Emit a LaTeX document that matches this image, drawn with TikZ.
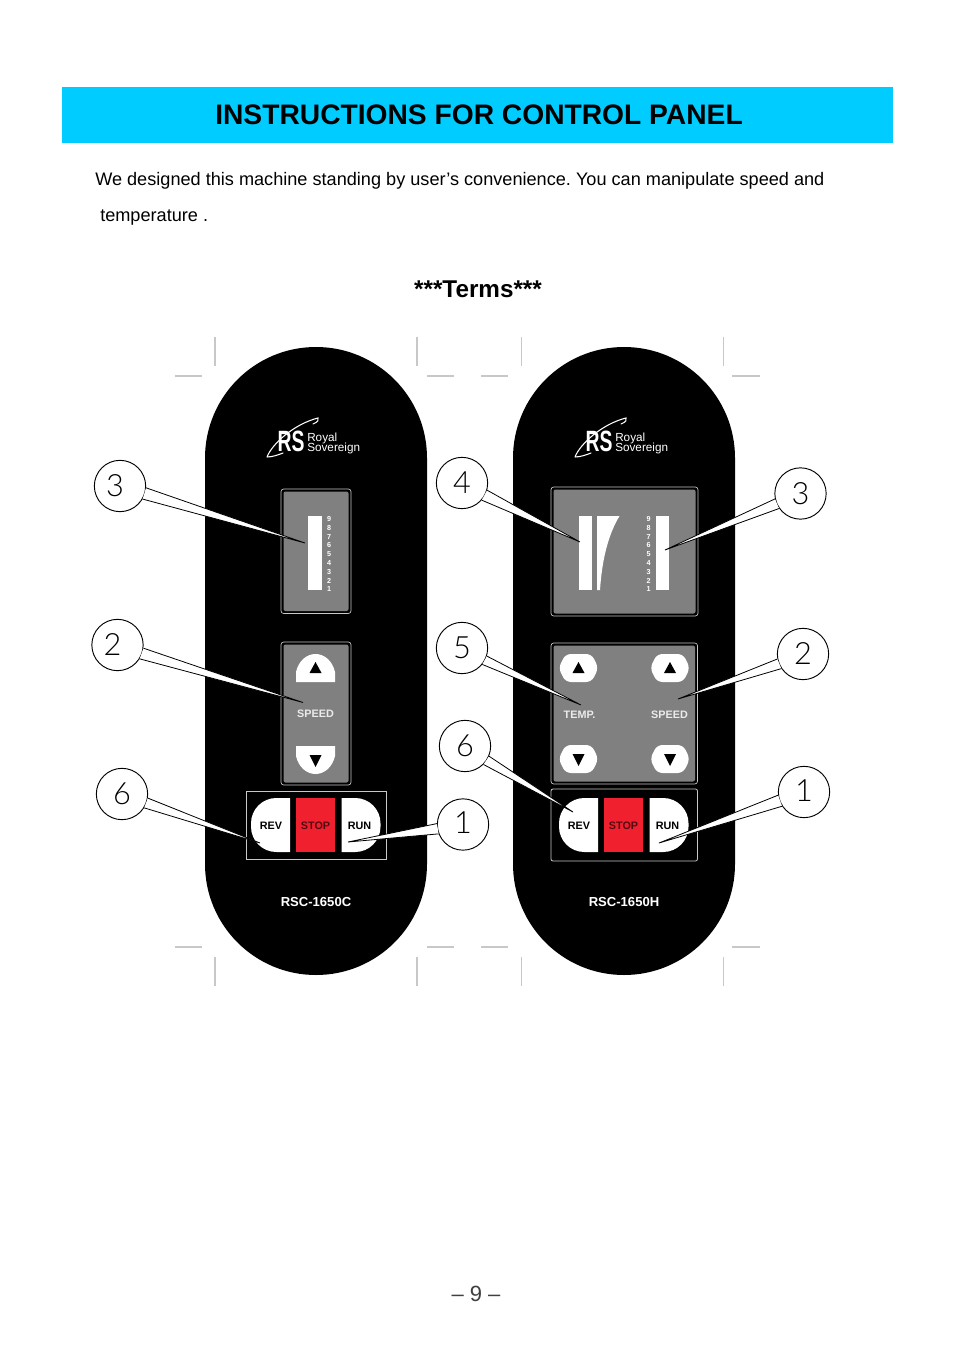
\documentclass[tikz,border=0pt]{standalone}
\usepackage{fontspec}
\setmainfont{Liberation Sans}
\newfontfamily\thinfont{Lato Light}
\usetikzlibrary{positioning}
\definecolor{titlecyan}{HTML}{00CCFF}
\definecolor{panelgray}{HTML}{808080}
\definecolor{stopred}{HTML}{F0202F}
\definecolor{cropgray}{HTML}{C8C8C8}
\tikzset{
    crop/.style={draw=cropgray,line width=0.8pt},
    callnum/.style={circle,draw=black,fill=white,line width=0.7pt,minimum size=38.5pt,inner sep=0pt,font=\fontsize{23}{23}\thinfont},
    callout/.style={draw=black,fill=white,line width=0.6pt,line join=miter},
    window/.style={draw=cropgray,fill=black,line width=0.5pt,rounded corners=2pt},
    screen/.style={fill=panelgray,rounded corners=1.5pt},
    boxed/.style={draw=cropgray,fill=black,line width=0.6pt},
    keylabel/.style={inner sep=0pt,font=\fontsize{8.1}{8.1}\selectfont\bfseries},
    whitelabel/.style={keylabel,text=white!92!black},
    model/.style={inner sep=0pt,text=white,font=\fontsize{9.8}{9.8}\selectfont\bfseries},
    pics/scalecol/.style={code={
        \foreach \n [count=\i from 0] in {9,...,1}
            \node[inner sep=0pt,text=white,font=\fontsize{5.4}{5.4}\selectfont\bfseries] (#1\n) at (0,519+\i*8.8) {\n};
    }},
    pics/logo/.style={code={
        \draw[white,line width=0.8pt,line cap=round] (-49,17) .. controls (-44,4) and (-22,-16) .. (2,-22)
            .. controls (3,-20) and (2,-18) .. (-3,-16) (-49,17) .. controls (-44,17) and (-38,15) .. (-33,13);
        \node[inner sep=0pt,text=white,font=\fontsize{22}{22}\selectfont\bfseries] (#1rs) at (-25,1.5) {\scalebox{0.66}[1]{RS}};
        \node[inner sep=0pt,anchor=base west,text=white,font=\fontsize{8.8}{8.8}\selectfont] (#1royal) at (-9,1) {Royal};
        \node[inner sep=0pt,anchor=base west,text=white,font=\fontsize{8.8}{8.8}\selectfont] (#1sov) at (-9,11) {Sovereign};
    }},
    pics/domeup/.style={code={
        \fill[white] (-19.5,14) -- (-19.5,4) .. controls (-17,-7) and (-9,-14) .. (0,-14)
            .. controls (9,-14) and (17,-7) .. (19.5,4) -- (19.5,14) -- cycle;
        \fill[black] (0,-6) -- (6,5) -- (-6,5) -- cycle;
    }},
    pics/domedown/.style={code={
        \fill[white] (-19.5,-14) -- (-19.5,-4) .. controls (-17,7) and (-9,14) .. (0,14)
            .. controls (9,14) and (17,7) .. (19.5,-4) -- (19.5,-14) -- cycle;
        \fill[black] (0,7) -- (6,-5) -- (-6,-5) -- cycle;
    }},
    pics/hexup/.style={code={
        \fill[white,rounded corners=4pt] (-13,-14) -- (13,-14) -- (20,0) -- (13,14) -- (-13,14) -- (-20,0) -- cycle;
        \fill[black] (0,-6) -- (6,5) -- (-6,5) -- cycle;
    }},
    pics/hexdown/.style={code={
        \fill[white,rounded corners=4pt] (-13,-14) -- (13,-14) -- (20,0) -- (13,14) -- (-13,14) -- (-20,0) -- cycle;
        \fill[black] (0,7) -- (6,-5) -- (-6,-5) -- cycle;
    }},
    pics/keyrow/.style={code={
        \fill[white] (19.5,-27) [rounded corners=19pt] -- (-19.5,-27) -- (-19.5,27) [sharp corners] -- (19.5,27) -- cycle;
        \fill[stopred] (25.5,-27) rectangle (64.5,27);
        \fill[white] (71,-27) [rounded corners=19pt] -- (110,-27) -- (110,27) [sharp corners] -- (71,27) -- cycle;
        \node[keylabel] (#1rev) at (0.5,1) {REV};
        \node[keylabel,text=stopred!35!black] (#1stop) at (45,1) {STOP};
        \node[keylabel] (#1run) at (89,1) {RUN};
    }},
}
\begin{document}
\frenchspacing
\begin{tikzpicture}[x=0.75pt,y=-0.75pt]
    \useasboundingbox[fill=white] (0,0) rectangle (954,1351);
    % heading
    \fill[titlecyan] (62,87) rectangle (893,143);
    \node[inner sep=0pt,font=\fontsize{21.15}{21.15}\selectfont\bfseries] (title) at (479,114.5) {INSTRUCTIONS FOR CONTROL PANEL};
    \node[inner sep=0pt,anchor=base west,font=\fontsize{13.6}{14}\selectfont] (introa) at (95,186) {We designed this machine standing by user’s convenience. You can manipulate speed and};
    \node[inner sep=0pt,anchor=base west,font=\fontsize{13.6}{14}\selectfont] (introb) at (100,222) {temperature .};
    \node[inner sep=0pt,font=\fontsize{18.2}{18.2}\selectfont\bfseries] (terms) at (478,289) {***Terms***};
    \node[inner sep=0pt,font=\fontsize{16.5}{16.5}\selectfont,text=black!75] (pagenum) at (476,1294) {– 9 –};

    % crop marks
    \foreach \xa/\xb/\xc/\xd/\xe/\xf in {215/417/175/202/427/454, 521.5/723.5/481/508/732/760}{
        \draw[crop] (\xa,337) -- (\xa,366);
        \draw[crop] (\xb,337) -- (\xb,366);
        \draw[crop] (\xc,376) -- (\xd,376);
        \draw[crop] (\xe,376) -- (\xf,376);
        \draw[crop] (\xc,947) -- (\xd,947);
        \draw[crop] (\xe,947) -- (\xf,947);
        \draw[crop] (\xa,957) -- (\xa,986);
        \draw[crop] (\xb,957) -- (\xb,986);
    }

    % panel bodies
    \fill[black] (205,458) arc[start angle=180,end angle=0,radius=83.25pt] -- (427,864) arc[start angle=0,end angle=-180,radius=83.25pt] -- cycle;
    \fill[black] (513,458) arc[start angle=180,end angle=0,radius=83.25pt] -- (735,864) arc[start angle=0,end angle=-180,radius=83.25pt] -- cycle;
    \pic at (316,440) {logo=l};
    \pic at (624,440) {logo=r};

    % left panel
    \filldraw[window] (281,489) rectangle (351,613.5);
    \fill[screen] (283.5,491.5) rectangle (348.5,611);
    \fill[white] (308,516) rectangle (322,590);
    \pic at (329,0) {scalecol=la};
    \filldraw[window] (281,642) rectangle (351,785);
    \fill[screen] (283.5,644.5) rectangle (348.5,782.5);
    \pic at (315.5,668) {domeup};
    \pic at (315.5,760) {domedown};
    \node[whitelabel] (lspeed) at (315.5,714) {SPEED};
    \path[boxed] (246,791) rectangle (386,859);
    \pic at (270.5,825) {keyrow=l};
    \node[model] (lmodel) at (316,901.5) {RSC-1650C};

    % right panel
    \filldraw[window] (551,487) rectangle (698,616);
    \fill[screen] (553.5,489.5) rectangle (695.5,613.5);
    \fill[white] (579,516) rectangle (592,590);
    \fill[white] (597,516) -- (619.5,516) .. controls (608,535) and (602,560) .. (600,590) -- (597,590) -- cycle;
    \fill[white] (656,516) rectangle (669,590);
    \pic at (648.5,0) {scalecol=ra};
    \filldraw[window] (551,643) rectangle (697.5,784);
    \fill[screen] (553.5,645.5) rectangle (695,781.5);
    \pic at (578.5,668) {hexup};
    \pic at (670,668) {hexup};
    \pic at (578.5,759) {hexdown};
    \pic at (670,759) {hexdown};
    \node[whitelabel] (rtemp) at (579.5,715) {TEMP.};
    \node[whitelabel] (rspeed) at (669.5,715) {SPEED};
    \path[boxed,rounded corners=1.5pt] (551,789) rectangle (697.5,861);
    \pic at (578.5,825) {keyrow=r};
    \node[model] (rmodel) at (624,901.5) {RSC-1650H};

    % callouts
    \coordinate (tip_l3) at (305,543);
    \coordinate (tip_l2) at (303,702.5);
    \coordinate (tip_l6) at (260,843);
    \coordinate (tip_l1) at (348,842);
    \coordinate (tip_r4) at (580,542);
    \coordinate (tip_r5) at (581,705);
    \coordinate (tip_r6) at (573,812);
    \coordinate (tip_r3) at (665,550);
    \coordinate (tip_r2) at (678,699);
    \coordinate (tip_r1) at (659,843);
    \node[callnum] (l3) at (120,486) {3\kern7.5pt};
    \node[callnum] (l2) at (117.5,645) {2\kern7.5pt};
    \node[callnum] (l6) at (122,794) {6};
    \node[callnum] (l1) at (463,824.5) {\raisebox{2.5pt}{1}};
    \node[callnum] (r4) at (462,483) {4};
    \node[callnum] (r5) at (462,648) {5};
    \node[callnum] (r6) at (465,746) {6};
    \node[callnum] (r3) at (800.5,493.5) {3};
    \node[callnum] (r2) at (803,654) {2};
    \node[callnum] (r1) at (804,792) {\raisebox{2.5pt}{1}};
    \filldraw[callout] (l3.-4) -- (tip_l3) -- (l3.-30);
    \filldraw[callout] (l2.-7) -- (tip_l2) -- (l2.-32);
    \filldraw[callout] (l6.-9) -- (tip_l6) -- (l6.-32);
    \filldraw[callout] (l1.178) -- (tip_l1) -- (l1.201);
    \filldraw[callout] (r4.-16) -- (tip_r4) -- (r4.-41);
    \filldraw[callout] (r5.-18) -- (tip_r5) -- (r5.-39);
    \filldraw[callout] (r6.-23) -- (tip_r6) -- (r6.-45);
    \filldraw[callout] (r3.192) -- (tip_r3) -- (r3.215);
    \filldraw[callout] (r2.191) -- (tip_r2) -- (r2.214);
    \filldraw[callout] (r1.187) -- (tip_r1) -- (r1.213);
\end{tikzpicture}
\end{document}
